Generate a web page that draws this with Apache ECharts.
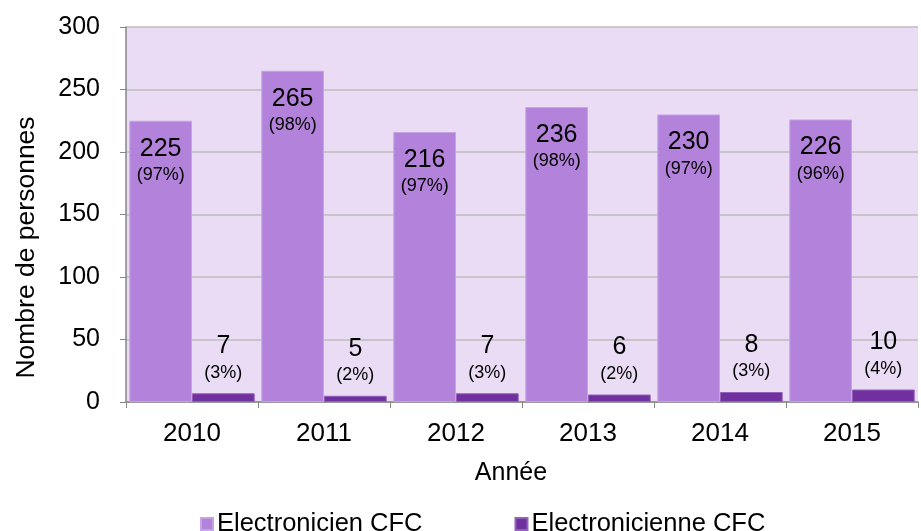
<!DOCTYPE html>
<html><head><meta charset="utf-8">
<script src="https://cdn.jsdelivr.net/npm/echarts@6/dist/echarts.min.js"></script>
<style>html,body{margin:0;padding:0;background:#fff}#c{width:921px;height:531px}</style>
</head><body><div id="c"></div>
<script>
var years = ['2010','2011','2012','2013','2014','2015'];
var hommes = [225, 265, 216, 236, 230, 226];
var hommesPct = ['97%','98%','97%','98%','97%','96%'];
var femmes = [7, 5, 7, 6, 8, 10];
var femmesPct = ['3%','2%','3%','2%','3%','4%'];
var yTicks = [0, 50, 100, 150, 200, 250, 300];

var FONT = 'Liberation Sans, Arial, sans-serif';
var chart = echarts.init(document.getElementById('c'));
function rich() {
  return {
    v: {fontSize: 25, lineHeight: 26, color: '#000', fontFamily: FONT},
    p: {fontSize: 18, lineHeight: 27, color: '#000', fontFamily: FONT}
  };
}
chart.setOption({
  animation: false,
  textStyle: {fontFamily: FONT},
  grid: {left: 126, right: 3, top: 27, bottom: 129, show: true, backgroundColor: '#EADCF4', borderWidth: 0},
  legend: {
    top: 511, left: 200, itemWidth: 12, itemHeight: 12, itemGap: 92,
    icon: 'rect', padding: 0,
    textStyle: {fontSize: 25.5, color: '#000', fontFamily: FONT, padding: [0,0,0,-1]},
    data: ['Electronicien CFC', 'Electronicienne CFC']
  },
  xAxis: {
    type: 'category', data: years,
    name: 'Année', nameLocation: 'middle', nameGap: 59,
    nameTextStyle: {fontSize: 25, color: '#000', fontFamily: FONT, padding: [0, 22, 0, 0]},
    axisLine: {lineStyle: {color: '#868686', width: 1.5}},
    axisTick: {show: true, length: 6, lineStyle: {color: '#868686'}},
    axisLabel: {fontSize: 26, color: '#000', margin: 19, fontFamily: FONT}
  },
  yAxis: {
    type: 'value', min: yTicks[0], max: yTicks[yTicks.length-1], interval: 50,
    name: 'Nombre de personnes', nameLocation: 'middle', nameGap: 86,
    nameTextStyle: {fontSize: 26.5, color: '#000', fontFamily: FONT, padding: [0, 66, 0, 0]},
    axisLine: {show: true, lineStyle: {color: '#868686', width: 1.5}},
    axisTick: {show: true, length: 6, lineStyle: {color: '#868686'}},
    splitLine: {lineStyle: {color: '#BDBDBD', width: 1.5}},
    axisLabel: {fontSize: 25, color: '#000', margin: 26, fontFamily: FONT}
  },
  series: [
    {
      name: 'Electronicien CFC', type: 'bar', data: hommes,
      barGap: '0%', barCategoryGap: '5%',
      itemStyle: {color: '#B383DB', borderColor: '#C6A2E6', borderWidth: 1},
      label: {
        show: true, position: 'insideTop', distance: 15,
        formatter: function (p) { return '{v|' + p.value + '}\n{p|(' + hommesPct[p.dataIndex] + ')}'; },
        rich: rich()
      }
    },
    {
      name: 'Electronicienne CFC', type: 'bar', data: femmes,
      itemStyle: {color: '#7030A0', borderColor: '#9360BA', borderWidth: 1},
      label: {
        show: true, position: 'top', distance: 7,
        formatter: function (p) { return '{v|' + p.value + '}\n{p|(' + femmesPct[p.dataIndex] + ')}'; },
        rich: rich()
      }
    }
  ]
});
</script></body></html>
